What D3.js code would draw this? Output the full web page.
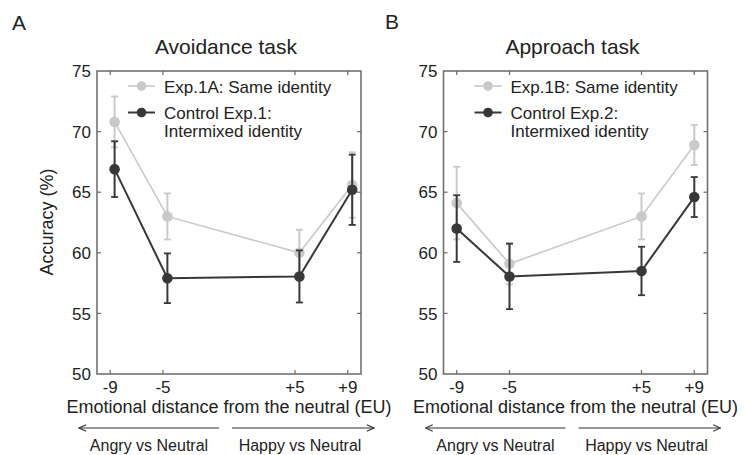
<!DOCTYPE html>
<html>
<head>
<meta charset="utf-8">
<script src="https://cdn.jsdelivr.net/npm/d3@7"></script>
<style>
  body { margin: 0; background: #fff; }
  text { font-family: "Liberation Sans", Arial, sans-serif; fill: #222; }
</style>
</head>
<body>
<div id="chart"></div>
<script>
// emotional distance conditions (EU)
const xVals = [-9, -5, 5, 9];
const xTickLabels = ["-9", "-5", "+5", "+9"];
const yTicks = [50, 55, 60, 65, 70, 75];

// Avoidance task (panel A)
const avoidSame = [70.8, 63.0, 60.0, 65.6];
const avoidSameErr = [2.1, 1.9, 1.9, 2.7];
const avoidCtrl = [66.9, 57.9, 58.05, 65.2];
const avoidCtrlErr = [2.3, 2.05, 2.15, 2.9];

// Approach task (panel B)
const approachSame = [64.1, 59.1, 63.0, 68.9];
const approachSameErr = [3.0, 1.7, 1.9, 1.65];
const approachCtrl = [62.0, 58.05, 58.5, 64.6];
const approachCtrlErr = [2.75, 2.7, 2.0, 1.65];

const lightCol = "#c9c9c9", darkCol = "#383838", boxCol = "#6a6a6a";

var panels = [
  { tag: "A", title: "Avoidance task", left: 97, shift: 4.4,
    legend: ["Exp.1A: Same identity", "Control Exp.1:", "Intermixed identity"],
    series: [
      { mean: avoidSame, err: avoidSameErr, color: lightCol, w: 1.6 },
      { mean: avoidCtrl, err: avoidCtrlErr, color: darkCol, w: 2 }
    ] },
  { tag: "B", title: "Approach task", left: 443.5, shift: 0,
    legend: ["Exp.1B: Same identity", "Control Exp.2:", "Intermixed identity"],
    series: [
      { mean: approachSame, err: approachSameErr, color: lightCol, w: 1.6 },
      { mean: approachCtrl, err: approachCtrlErr, color: darkCol, w: 2 }
    ] }
];

var W = 745, H = 455;
var plotW = 264, plotTop = 71, plotBottom = 374;

var svg = d3.select("#chart").append("svg")
  .attr("width", W)
  .attr("height", H);

var y = d3.scaleLinear().domain([50, 75]).range([plotBottom, plotTop]);

// arrowhead (open chevron)
svg.append("defs").append("marker")
  .attr("id", "arr")
  .attr("viewBox", "0 0 10 10")
  .attr("refX", 9).attr("refY", 5)
  .attr("markerWidth", 9).attr("markerHeight", 9)
  .attr("markerUnits", "userSpaceOnUse")
  .attr("orient", "auto")
  .append("path")
  .attr("d", "M1,1.5 L9,5 L1,8.5")
  .attr("fill", "none")
  .attr("stroke", "#333")
  .attr("stroke-width", 1.2);

panels.forEach(function (p, pi) {
  var x = d3.scaleLinear().domain([-10, 10]).range([p.left, p.left + plotW]);
  var cx = p.left + plotW / 2;
  var g = svg.append("g");

  // panel letter + title
  g.append("text")
    .attr("x", pi === 0 ? 12 : 385).attr("y", pi === 0 ? 30 : 29)
    .attr("font-size", 21)
    .text(p.tag);
  g.append("text")
    .attr("x", cx - 3).attr("y", 54)
    .attr("text-anchor", "middle")
    .attr("font-size", 21)
    .text(p.title);

  // box
  g.append("rect")
    .attr("x", p.left).attr("y", plotTop)
    .attr("width", plotW).attr("height", plotBottom - plotTop)
    .attr("fill", "none")
    .attr("stroke", boxCol)
    .attr("stroke-width", 1.5);

  // y ticks (inward on both sides) + labels
  yTicks.forEach(function (t) {
    [[p.left, 4], [p.left + plotW, -4]].forEach(function (s) {
      if (t === 50 || t === 75) return;
      g.append("line")
        .attr("x1", s[0]).attr("x2", s[0] + s[1])
        .attr("y1", y(t)).attr("y2", y(t))
        .attr("stroke", boxCol).attr("stroke-width", 1.2);
    });
    g.append("text")
      .attr("x", p.left - 6).attr("y", y(t))
      .attr("dy", "0.36em")
      .attr("text-anchor", "end")
      .attr("font-size", 17)
      .text(t);
  });

  // x ticks (inward top & bottom) + labels
  xVals.forEach(function (v, i) {
    [[plotBottom, -4], [plotTop, 4]].forEach(function (s) {
      g.append("line")
        .attr("x1", x(v)).attr("x2", x(v))
        .attr("y1", s[0]).attr("y2", s[0] + s[1])
        .attr("stroke", boxCol).attr("stroke-width", 1.2);
    });
    g.append("text")
      .attr("x", x(v)).attr("y", 393)
      .attr("text-anchor", "middle")
      .attr("font-size", 17)
      .text(xTickLabels[i]);
  });

  // axis titles
  g.append("text")
    .attr("x", cx).attr("y", 413)
    .attr("text-anchor", "middle")
    .attr("font-size", 18)
    .text("Emotional distance from the neutral (EU)");
  if (pi === 0) {
    g.append("text")
      .attr("transform", "translate(53," + 222 + ") rotate(-90)")
      .attr("text-anchor", "middle")
      .attr("font-size", 18)
      .text("Accuracy (%)");
  }

  // direction arrows
  g.append("line")
    .attr("x1", cx - 10).attr("y1", 428)
    .attr("x2", cx - 150).attr("y2", 428)
    .attr("stroke", "#333").attr("stroke-width", 1)
    .attr("marker-end", "url(#arr)");
  g.append("line")
    .attr("x1", cx + 3).attr("y1", 428)
    .attr("x2", cx + 145).attr("y2", 428)
    .attr("stroke", "#333").attr("stroke-width", 1)
    .attr("marker-end", "url(#arr)");
  g.append("text")
    .attr("x", cx - 80).attr("y", 451)
    .attr("text-anchor", "middle")
    .attr("font-size", 16)
    .text("Angry vs Neutral");
  g.append("text")
    .attr("x", cx + 71).attr("y", 451)
    .attr("text-anchor", "middle")
    .attr("font-size", 16)
    .text("Happy vs Neutral");

  // data series
  var line = d3.line()
    .x(function (d) { return x(d.x) + p.shift; })
    .y(function (d) { return y(d.m); });

  p.series.forEach(function (s) {
    var pts = xVals.map(function (v, i) { return { x: v, m: s.mean[i], e: s.err[i] }; });
    var sg = g.append("g");
    sg.append("path")
      .datum(pts)
      .attr("d", line)
      .attr("fill", "none")
      .attr("stroke", s.color)
      .attr("stroke-width", s.w);

    var eb = sg.selectAll(".eb").data(pts).enter().append("g");
    eb.append("line")
      .attr("x1", function (d) { return x(d.x) + p.shift; })
      .attr("x2", function (d) { return x(d.x) + p.shift; })
      .attr("y1", function (d) { return y(d.m - d.e); })
      .attr("y2", function (d) { return y(d.m + d.e); })
      .attr("stroke", s.color).attr("stroke-width", 2);
    [-1, 1].forEach(function (sign) {
      eb.append("line")
        .attr("x1", function (d) { return x(d.x) + p.shift - 3.5; })
        .attr("x2", function (d) { return x(d.x) + p.shift + 3.5; })
        .attr("y1", function (d) { return y(d.m + sign * d.e); })
        .attr("y2", function (d) { return y(d.m + sign * d.e); })
        .attr("stroke", s.color).attr("stroke-width", 1.8);
    });
    sg.selectAll("circle").data(pts).enter().append("circle")
      .attr("cx", function (d) { return x(d.x) + p.shift; })
      .attr("cy", function (d) { return y(d.m); })
      .attr("r", 5.3)
      .attr("fill", s.color);
  });

  // legend
  var lx = p.left + 31, tx = p.left + 67;
  [[lightCol, 86, 1.6], [darkCol, 112.5, 2]].forEach(function (l) {
    g.append("line")
      .attr("x1", lx).attr("x2", lx + 27)
      .attr("y1", l[1]).attr("y2", l[1])
      .attr("stroke", l[0]).attr("stroke-width", l[2]);
    g.append("circle")
      .attr("cx", lx + 13.5).attr("cy", l[1])
      .attr("r", 4.8).attr("fill", l[0]);
  });
  [[p.legend[0], 93], [p.legend[1], 119], [p.legend[2], 137]].forEach(function (t) {
    g.append("text")
      .attr("x", tx).attr("y", t[1])
      .attr("font-size", 17)
      .text(t[0]);
  });
});
</script>
</body>
</html>
